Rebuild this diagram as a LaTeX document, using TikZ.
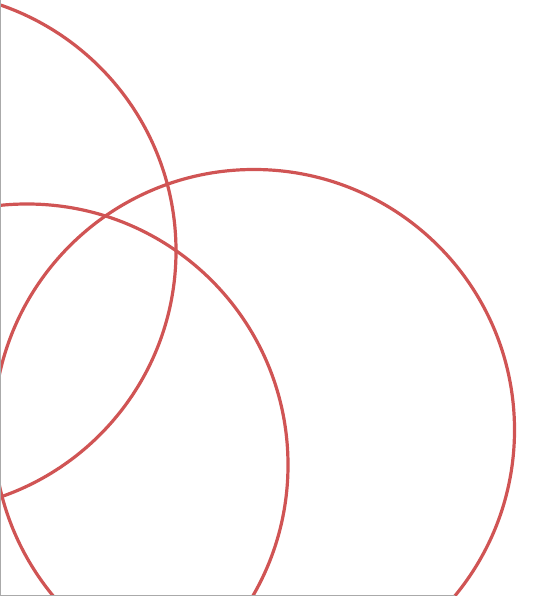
\documentclass[tikz,border=0pt]{standalone}
\definecolor{ringred}{RGB}{208,84,84}
\definecolor{axisgray}{RGB}{170,170,170}
\tikzset{ring/.style={draw=ringred,line width=3.2pt},
axisline/.style={draw=axisgray,line width=1.2pt}}
\begin{document}
\begin{tikzpicture}[x=1pt,y=1pt]
\useasboundingbox (0,0) rectangle (534,596);
\begin{scope}
\clip (0.5,0.8) rectangle (534,596);
\draw[ring] (-84,345) circle (260);
\draw[ring] (27,131) circle (261);
\draw[ring] (254,166) circle (260.5);
\end{scope}
\draw[axisline] (0.6,596) -- (0.6,0.8) -- (455,0.8);
\end{tikzpicture}
\end{document}
